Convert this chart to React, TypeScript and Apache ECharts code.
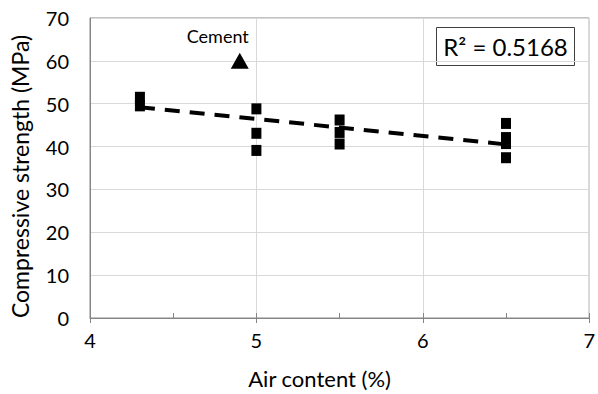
import React, { useEffect, useRef } from "react";
import * as echarts from "echarts";

const mixData: [number, number][] = [
  [4.3, 51.5], [4.3, 49.5],
  [5.0, 48.8], [5.0, 43.1], [5.0, 39.1],
  [5.5, 46.2], [5.5, 43.3], [5.5, 40.6],
  [6.5, 45.4], [6.5, 42.1], [6.5, 40.7], [6.5, 37.4],
];
const cementData: [number, number][] = [[4.9, 60]];
const trendX = [4.3, 6.5];
const trendY = [49.2, 40.5];
const r2Text = "R² = 0.5168";
const xTitle = "Air content (%)";
const yTitle = "Compressive strength (MPa)";

const FONT = "Lato";

export default function App() {
  const ref = useRef<HTMLDivElement>(null);
  useEffect(() => {
    const chart = echarts.init(ref.current!, null, { renderer: "svg" });
    const trend = trendX.map((x, i) => [x, trendY[i]]);
    chart.setOption({
      animation: false,
      backgroundColor: "#fff",
      grid: {
        left: 90, top: 18, right: 4, bottom: 76,
        show: true, borderColor: "#868686", borderWidth: 1,
      },
      xAxis: [
        {
          type: "value", min: 4, max: 7, interval: 1,
          name: xTitle, nameLocation: "middle", nameGap: 49,
          nameTextStyle: { fontFamily: FONT, fontSize: 22, color: "#000", padding: [0, 40, 0, 0] },
          axisLine: { show: true, lineStyle: { color: "#868686", width: 1 } },
          axisTick: { show: true, inside: false, length: 5, lineStyle: { color: "#868686" } },
          axisLabel: { fontFamily: FONT, fontSize: 20, color: "#000", margin: 12 },
          splitLine: { show: true, lineStyle: { color: "#d9d9d9", width: 1 } },
        },
        {
          type: "value", min: 4, max: 7, interval: 0.5, position: "bottom",
          axisLine: { show: false },
          axisTick: { show: true, inside: true, length: 5, lineStyle: { color: "#868686" } },
          axisLabel: { show: false },
          splitLine: { show: false },
        },
      ],
      yAxis: {
        type: "value", min: 0, max: 70, interval: 10,
        name: yTitle, nameLocation: "middle", nameGap: 59,
        nameTextStyle: { fontFamily: FONT, fontSize: 23, color: "#000", padding: [0, 17, 0, 0] },
        axisLine: { show: true, lineStyle: { color: "#868686", width: 1 } },
        axisTick: { show: false },
        axisLabel: { fontFamily: FONT, fontSize: 20, color: "#000", margin: 21 },
        splitLine: { show: true, lineStyle: { color: "#d9d9d9", width: 1 } },
      },
      series: [
        {
          type: "line", data: trend, symbol: "none", z: 3,
          lineStyle: { color: "#000", width: 4, type: [15, 10] },
        },
        {
          type: "scatter", data: mixData, symbol: "rect", symbolSize: [10, 11], z: 4,
          itemStyle: { color: "#000", opacity: 1 },
        },
        {
          type: "scatter", data: cementData, symbol: "triangle", symbolSize: [18, 16], z: 4,
          itemStyle: { color: "#000", opacity: 1 },
          label: {
            show: true, formatter: "Cement", position: "top", distance: 5, offset: [-22, -3],
            fontFamily: FONT, fontSize: 18, color: "#000",
          },
        },
      ],
      graphic: [
        {
          type: "group", left: 436, top: 27,
          children: [
            { type: "rect", shape: { x: 0, y: 0, width: 138, height: 38 }, style: { fill: "#fff", stroke: "#404040", lineWidth: 1 } },
            { type: "text", x: 69, y: 19, style: { text: r2Text, fontFamily: FONT, fontSize: 24, fill: "#000", align: "center", verticalAlign: "middle" } },
          ],
        },
      ],
    });
    return () => chart.dispose();
  }, []);
  return <div ref={ref} style={{ position: "fixed", left: 0, top: 0, width: 598, height: 394 }} />;
}
